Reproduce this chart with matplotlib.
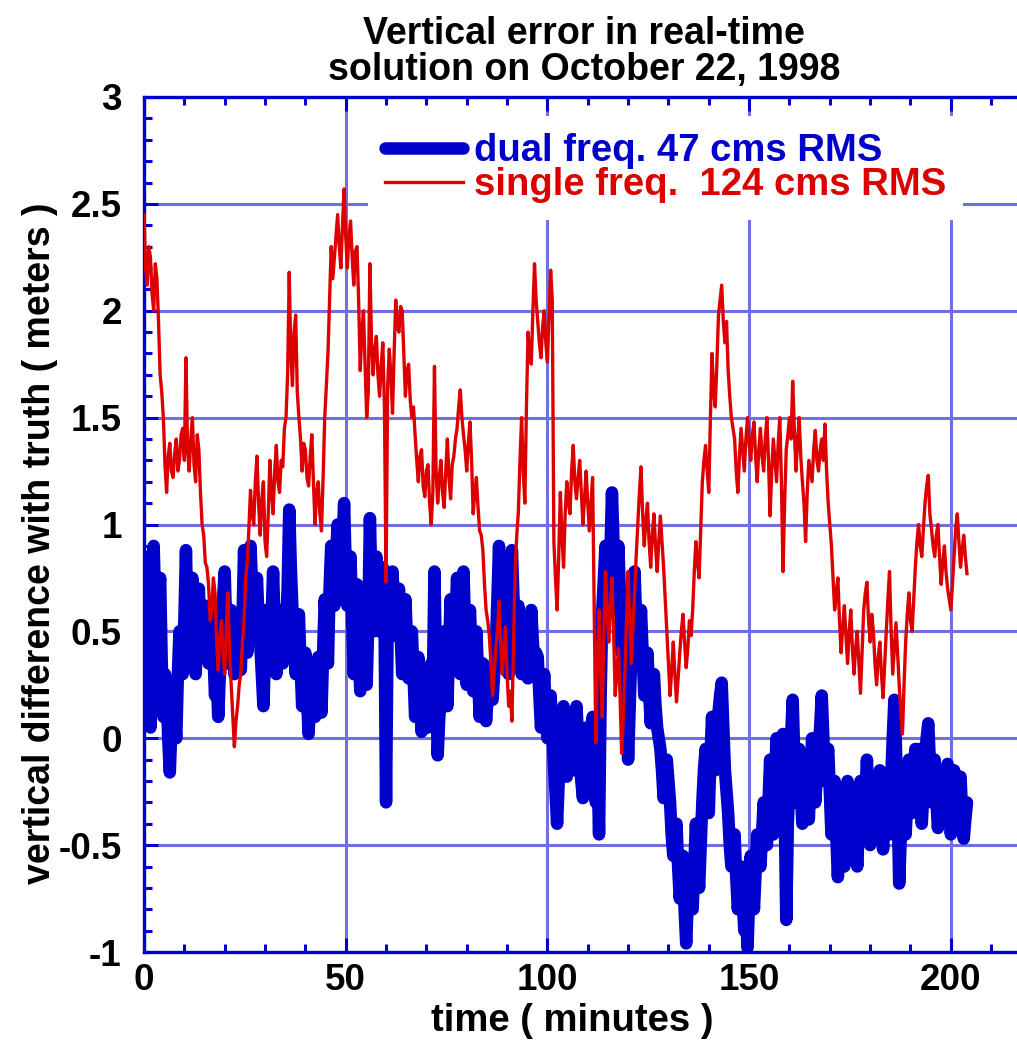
import numpy as np
import matplotlib.pyplot as plt
from matplotlib.ticker import MultipleLocator, StrMethodFormatter

plt.rcParams['font.family'] = ['Liberation Sans', 'DejaVu Sans']
plt.rcParams['font.weight'] = 'bold'
plt.rcParams['axes.unicode_minus'] = False

# sampling interval of the read-off values [min]
dt = 0.4

# single frequency solution, vertical error [m]
single_freq = [
    2.45, 2.20, 2.12, 2.30, 2.25, 2.08, 2.00, 2.22, 2.15, 1.95, 1.70, 1.62, 1.50, 1.28, 1.15, 1.32, 1.38, 1.25, 1.22, 1.33,
    1.40, 1.25, 1.30, 1.42, 1.45, 1.30, 1.78, 1.35, 1.25, 1.40, 1.50, 1.28, 1.20, 1.42, 1.35, 1.15, 1.00, 0.95, 0.82, 0.80,
    0.72, 0.55, 0.60, 0.75, 0.68, 0.45, 0.32, 0.48, 0.55, 0.40, 0.30, 0.52, 0.68, 0.40, 0.25, 0.10, -0.04, 0.08, 0.15, 0.25,
    0.30, 0.45, 0.55, 0.75, 0.82, 0.98, 1.16, 1.05, 1.00, 1.20, 1.32, 1.10, 0.95, 1.12, 1.20, 0.92, 0.85, 1.05, 1.30, 1.15,
    1.05, 1.25, 1.37, 1.20, 1.15, 1.30, 1.27, 1.45, 1.50, 1.70, 2.18, 1.80, 1.65, 1.90, 1.98, 1.62, 1.50, 1.40, 1.25, 1.38,
    1.35, 1.22, 1.18, 1.32, 1.42, 1.20, 1.00, 1.15, 1.20, 1.05, 0.97, 1.22, 1.50, 1.65, 1.80, 2.05, 2.30, 2.15, 2.25, 2.35,
    2.45, 2.30, 2.20, 2.40, 2.57, 2.35, 2.20, 2.35, 2.42, 2.25, 2.12, 2.28, 2.30, 2.05, 1.72, 1.90, 2.00, 1.75, 1.50, 1.62,
    2.22, 1.85, 1.70, 1.82, 1.88, 1.70, 1.60, 1.75, 1.85, 1.55, 0.73, 1.65, 1.82, 1.70, 1.52, 1.80, 2.05, 1.92, 1.90, 2.02,
    2.00, 1.80, 1.60, 1.72, 1.75, 1.58, 1.50, 1.55, 1.42, 1.30, 1.20, 1.32, 1.35, 1.18, 1.13, 1.25, 1.28, 1.10, 1.00, 1.15,
    1.74, 1.25, 1.10, 1.22, 1.30, 1.15, 1.08, 1.25, 1.40, 1.22, 1.12, 1.28, 1.32, 1.40, 1.45, 1.55, 1.63, 1.50, 1.42, 1.35,
    1.25, 1.38, 1.48, 1.30, 1.05, 1.15, 1.22, 1.08, 0.97, 0.95, 0.88, 0.72, 0.60, 0.55, 0.48, 0.35, 0.20, 0.30, 0.42, 0.50,
    0.64, 0.45, 0.30, 0.42, 0.52, 0.30, 0.15, 0.22, 0.08, 0.45, 0.80, 0.95, 1.06, 1.30, 1.50, 1.25, 1.10, 1.55, 1.90, 1.80,
    1.75, 2.00, 2.22, 2.05, 1.95, 1.85, 1.78, 1.92, 2.00, 1.85, 1.76, 1.98, 2.19, 2.05, 0.92, 0.75, 0.60, 0.85, 1.15, 0.95,
    0.80, 1.05, 1.20, 1.10, 1.05, 1.25, 1.37, 1.20, 1.12, 1.22, 1.30, 1.15, 1.00, 1.12, 1.25, 1.10, 0.97, 1.10, 1.22, 0.60,
    -0.02, 0.35, 0.60, 0.30, 0.10, 0.50, 0.78, 0.60, 0.45, 0.62, 0.75, 0.50, 0.20, 0.30, 0.42, 0.20, -0.07, 0.10, 0.30, 0.55,
    0.78, 0.55, 0.35, 0.52, 0.70, 0.85, 1.00, 1.15, 1.27, 1.05, 0.90, 1.02, 1.10, 0.92, 0.80, 0.95, 1.05, 0.90, 0.78, 0.92,
    1.04, 0.92, 0.80, 0.65, 0.50, 0.35, 0.20, 0.32, 0.45, 0.30, 0.17, 0.28, 0.40, 0.50, 0.58, 0.45, 0.33, 0.42, 0.55, 0.48,
    0.60, 0.78, 0.92, 0.82, 0.75, 0.98, 1.20, 1.30, 1.37, 1.25, 1.15, 1.50, 1.80, 1.62, 1.55, 1.75, 1.98, 2.05, 2.12, 1.95,
    1.85, 1.95, 1.72, 1.60, 1.50, 1.45, 1.40, 1.25, 1.15, 1.32, 1.45, 1.35, 1.25, 1.40, 1.50, 1.38, 1.30, 1.42, 1.48, 1.32,
    1.20, 1.35, 1.45, 1.32, 1.25, 1.40, 1.50, 1.30, 1.04, 1.25, 1.40, 1.30, 1.20, 1.38, 1.50, 1.20, 0.78, 1.10, 1.35, 1.42,
    1.50, 1.40, 1.67, 1.45, 1.25, 1.38, 1.50, 1.32, 1.20, 1.10, 0.92, 1.15, 1.30, 1.25, 1.20, 1.35, 1.44, 1.30, 1.25, 1.35,
    1.40, 1.30, 1.47, 1.25, 1.10, 1.00, 0.90, 0.75, 0.60, 0.68, 0.75, 0.55, 0.40, 0.52, 0.62, 0.48, 0.35, 0.50, 0.60, 0.42,
    0.30, 0.42, 0.50, 0.35, 0.21, 0.40, 0.60, 0.68, 0.73, 0.55, 0.45, 0.58, 0.50, 0.35, 0.25, 0.38, 0.45, 0.30, 0.19, 0.35,
    0.50, 0.65, 0.78, 0.50, 0.30, 0.42, 0.54, 0.40, 0.25, 0.12, 0.02, 0.25, 0.45, 0.58, 0.68, 0.55, 0.50, 0.65, 0.80, 0.92,
    1.00, 0.90, 0.85, 0.98, 1.10, 1.18, 1.23, 1.05, 0.98, 0.90, 0.85, 0.95, 1.00, 0.85, 0.72, 0.82, 0.90, 0.78, 0.70, 0.65,
    0.60, 0.72, 0.85, 0.98, 1.05, 0.92, 0.80, 0.88, 0.95, 0.85, 0.77,
]

# dual frequency solution, vertical error [m]
dual_freq = [
    0.30, 0.70, 0.85, 0.40, 0.05, 0.55, 0.90, 0.60, 0.30, 0.65, 0.75, 0.35, 0.10, 0.30, 0.25, 0.00, -0.16, 0.05, 0.20, 0.10,
    0.00, 0.30, 0.50, 0.45, 0.30, 0.55, 0.88, 0.50, 0.35, 0.55, 0.75, 0.45, 0.30, 0.50, 0.70, 0.45, 0.40, 0.55, 0.62, 0.45,
    0.35, 0.50, 0.60, 0.40, 0.20, 0.30, 0.10, 0.30, 0.45, 0.65, 0.78, 0.50, 0.35, 0.48, 0.60, 0.42, 0.30, 0.45, 0.52, 0.40,
    0.32, 0.55, 0.88, 0.60, 0.40, 0.65, 0.90, 0.70, 0.50, 0.62, 0.75, 0.55, 0.45, 0.30, 0.15, 0.40, 0.60, 0.48, 0.35, 0.55,
    0.78, 0.50, 0.30, 0.45, 0.60, 0.48, 0.35, 0.42, 0.52, 0.70, 1.07, 0.80, 0.60, 0.45, 0.30, 0.45, 0.58, 0.35, 0.15, 0.30,
    0.40, 0.20, 0.02, 0.20, 0.35, 0.22, 0.10, 0.25, 0.38, 0.25, 0.12, 0.40, 0.65, 0.50, 0.35, 0.70, 0.90, 0.75, 0.62, 0.85,
    1.00, 0.80, 0.65, 0.90, 1.10, 0.80, 0.62, 0.75, 0.85, 0.55, 0.30, 0.50, 0.72, 0.45, 0.22, 0.45, 0.70, 0.45, 0.25, 0.55,
    1.03, 0.70, 0.50, 0.70, 0.85, 0.62, 0.50, 0.65, 0.80, 0.60, -0.30, 0.55, 0.50, 0.65, 0.78, 0.60, 0.48, 0.58, 0.70, 0.50,
    0.30, 0.48, 0.65, 0.45, 0.28, 0.40, 0.50, 0.30, 0.10, 0.25, 0.38, 0.20, 0.03, 0.15, 0.30, 0.15, 0.05, 0.20, 0.35, 0.25,
    0.78, 0.30, -0.08, 0.10, 0.20, 0.35, 0.50, 0.30, 0.15, 0.40, 0.65, 0.50, 0.35, 0.55, 0.75, 0.50, 0.30, 0.55, 0.78, 0.50,
    0.25, 0.42, 0.60, 0.40, 0.22, 0.35, 0.50, 0.30, 0.10, 0.22, 0.35, 0.20, 0.08, 0.20, 0.30, 0.22, 0.18, 0.30, 0.42, 0.65,
    0.90, 0.60, 0.40, 0.55, 0.70, 0.50, 0.30, 0.60, 0.88, 0.65, 0.45, 0.55, 0.62, 0.45, 0.30, 0.42, 0.55, 0.40, 0.28, 0.45,
    0.60, 0.45, 0.30, 0.40, 0.38, 0.20, 0.05, 0.18, 0.30, 0.12, 0.00, 0.12, 0.20, 0.05, -0.12, -0.25, -0.40, -0.20, -0.05, 0.05,
    0.15, 0.00, -0.18, -0.02, 0.10, -0.05, -0.15, 0.02, 0.15, 0.00, -0.10, -0.20, -0.28, -0.10, 0.05, -0.08, -0.20, -0.05, 0.10, -0.10,
    -0.30, -0.10, -0.45, 0.20, 0.60, 0.75, 0.90, 0.75, 0.60, 0.85, 1.15, 0.90, 0.70, 0.80, 0.90, 0.65, 0.40, 0.50, 0.60, 0.25,
    -0.10, 0.15, 0.40, 0.60, 0.78, 0.55, 0.35, 0.48, 0.60, 0.40, 0.20, 0.30, 0.40, 0.22, 0.07, 0.18, 0.30, 0.15, 0.05, 0.00,
    -0.05, -0.15, -0.28, -0.18, -0.10, -0.20, -0.30, -0.45, -0.55, -0.45, -0.40, -0.60, -0.75, -0.65, -0.55, -0.80, -0.96, -0.75, -0.60, -0.72,
    -0.80, -0.60, -0.40, -0.55, -0.70, -0.50, -0.30, -0.15, -0.05, -0.20, -0.35, -0.10, 0.10, -0.05, -0.15, 0.00, 0.12, 0.20, 0.26, 0.05,
    -0.15, -0.25, -0.35, -0.50, -0.60, -0.52, -0.45, -0.65, -0.80, -0.70, -0.60, -0.75, -0.90, -0.80, -0.98, -0.75, -0.55, -0.68, -0.80, -0.62,
    -0.45, -0.55, -0.60, -0.45, -0.30, -0.40, -0.50, -0.30, -0.10, -0.28, -0.45, -0.20, 0.00, -0.18, -0.35, -0.15, 0.02, -0.30, -0.85, -0.40,
    -0.20, 0.00, 0.18, -0.10, -0.30, -0.15, -0.05, -0.25, -0.40, -0.25, -0.10, -0.25, -0.38, -0.18, 0.00, -0.15, -0.30, -0.18, -0.05, 0.05,
    0.20, 0.00, -0.20, -0.10, -0.05, -0.25, -0.45, -0.30, -0.20, -0.45, -0.65, -0.45, -0.30, -0.45, -0.60, -0.40, -0.20, -0.35, -0.50, -0.38,
    -0.25, -0.45, -0.60, -0.40, -0.20, -0.32, -0.45, -0.28, -0.10, -0.30, -0.50, -0.35, -0.20, -0.30, -0.40, -0.25, -0.15, -0.35, -0.52, -0.35,
    -0.20, -0.32, -0.45, -0.20, 0.00, 0.18, -0.05, -0.30, -0.68, -0.45, -0.20, -0.32, -0.45, -0.28, -0.10, -0.22, -0.35, -0.20, -0.05, -0.25,
    -0.05, -0.22, -0.40, -0.25, -0.10, 0.00, 0.07, -0.12, -0.30, -0.18, -0.10, -0.28, -0.42, -0.28, -0.15, -0.28, -0.38, -0.25, -0.12, -0.30,
    -0.45, -0.30, -0.15, -0.28, -0.40, -0.30, -0.18, -0.35, -0.47, -0.38, -0.30,
]

labels = ['dual freq. 47 cms RMS', 'single freq.  124 cms RMS']

t_single = np.arange(len(single_freq)) * dt
t_dual = np.arange(len(dual_freq)) * dt

blue = '#0000cc'
red = '#dd0000'

fig = plt.figure(figsize=(10.17, 10.54), dpi=100)
ax = fig.add_axes([144/1017, 1 - 952/1054, (1017 - 144)/1017, (952 - 97)/1054])

ax.plot(t_dual, dual_freq, color=blue, lw=9.0, solid_capstyle='round',
        solid_joinstyle='round', label=labels[0], zorder=3)
ax.plot(t_single, single_freq, color=red, lw=2.4, label=labels[1], zorder=4)

ax.set_xlim(0, 216.4)
ax.set_ylim(-1, 3)

ax.xaxis.set_major_locator(MultipleLocator(50))
ax.xaxis.set_minor_locator(MultipleLocator(10))
ax.yaxis.set_major_locator(MultipleLocator(0.5))
ax.yaxis.set_minor_locator(MultipleLocator(0.1))
ax.yaxis.set_major_formatter(StrMethodFormatter('{x:g}'))

ax.tick_params(which='both', direction='in', top=True, right=False,
               color=blue, width=2.2, labelsize=26.5)
ax.tick_params(which='major', length=10)
ax.tick_params(which='minor', length=5.5)
ax.tick_params(axis='x', pad=8)
ax.tick_params(axis='y', pad=16)

for side in ['left', 'top', 'bottom']:
    ax.spines[side].set_color(blue)
    ax.spines[side].set_linewidth(2.4)
ax.spines['right'].set_visible(False)

ax.set_axisbelow(True)
ax.grid(True, which='major', color='#7070e2', lw=2.2)

leg = ax.legend(loc='upper left', bbox_to_anchor=(368/1017, 1 - 116/1054),
                bbox_transform=fig.transFigure, fontsize=27.5, frameon=True,
                facecolor='white', edgecolor='none', framealpha=1,
                borderpad=0.45, borderaxespad=0, handlelength=2.05,
                handletextpad=0.27, labelspacing=-0.05)
for txt, c in zip(leg.get_texts(), [blue, red]):
    txt.set_color(c)

fig.text(584/1017, 1 - 52/1054, 'Vertical error in real-time\nsolution on October 22, 1998',
         ha='center', va='center', fontsize=27, linespacing=1.0)
fig.text(572/1017, 1 - 1021/1054, 'time ( minutes )', ha='center', va='center',
         fontsize=27.5)
fig.text(40/1017, 1 - 543/1054, 'vertical difference with truth ( meters )',
         ha='center', va='center', rotation=90, fontsize=27)

fig.savefig('out.png', dpi=100)
